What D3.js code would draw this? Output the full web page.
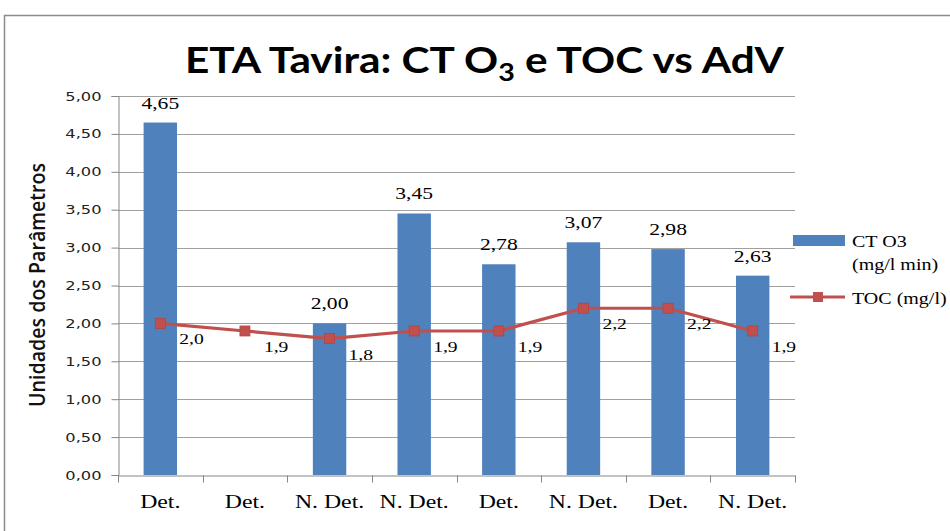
<!DOCTYPE html>
<html><head><meta charset="utf-8">
<script src="https://cdn.jsdelivr.net/npm/d3@7"></script>
<style>html,body{margin:0;padding:0;background:#fff;}svg{display:block;}</style>
</head><body>
<svg id="c" width="950" height="531"></svg>
<script>
const categories = ["Det.", "Det.", "N. Det.", "N. Det.", "Det.", "N. Det.", "Det.", "N. Det."];
const ctO3 = [4.65, null, 2.00, 3.45, 2.78, 3.07, 2.98, 2.63];
const toc = [2.0, 1.9, 1.8, 1.9, 1.9, 2.2, 2.2, 1.9];
const yTicks = [0, 0.5, 1, 1.5, 2, 2.5, 3, 3.5, 4, 4.5, 5];
const seriesNames = ["CT O3", "(mg/l min)", "TOC (mg/l)"];

const svg = d3.select("#c");
const L = 118, R = 795, T = 96, B = 475;
const x = d3.scaleBand().domain(d3.range(categories.length)).range([L, R]).padding(0);
const y = d3.scaleLinear().domain([0, 5]).range([B, T]);
const BLUE = "#4F81BD", RED = "#C0504D";
const comma = (f) => (v) => d3.format(f)(v).replace(".", ",");

function stretch(sel, k) {
  sel.each(function () {
    const w = this.getComputedTextLength();
    this.setAttribute("textLength", w * k);
    this.setAttribute("lengthAdjust", "spacingAndGlyphs");
  });
}

// outer border
svg.append("rect").attr("x", 4.5).attr("y", 15.5).attr("width", 1000).attr("height", 600)
  .attr("fill", "none").attr("stroke", "#8c8c8c").attr("stroke-width", 1.5);

// gridlines
svg.append("g").selectAll("line").data(yTicks.filter(d => d > 0)).join("line")
  .attr("x1", L).attr("x2", R).attr("y1", d => Math.round(y(d)) + 0.5).attr("y2", d => Math.round(y(d)) + 0.5)
  .attr("stroke", "#a0a0a0").attr("stroke-width", 1);

// y axis
const yAxis = svg.append("g").attr("transform", `translate(${L + 0.5},0)`)
  .call(d3.axisLeft(y).tickValues(yTicks).tickFormat(comma(".2f")).tickSize(7).tickPadding(10));
yAxis.select(".domain").attr("stroke", "#868686");
yAxis.selectAll(".tick line").attr("stroke", "#868686");
yAxis.selectAll(".tick text").attr("font-family", "DejaVu Sans").attr("font-size", 12.5).attr("fill", "#222");

// x axis
const xAxis = svg.append("g").attr("transform", `translate(0,${B + 0.5})`)
  .call(d3.axisBottom(x).tickFormat(i => categories[i]).tickSize(0).tickPadding(0));
xAxis.select(".domain").attr("stroke", "#868686");
xAxis.selectAll(".tick text").remove();
xAxis.selectAll(".bnd").data(d3.range(categories.length + 1)).join("line")
  .attr("x1", i => Math.round(L + i * x.step()) + 0.5).attr("x2", i => Math.round(L + i * x.step()) + 0.5)
  .attr("y1", 0).attr("y2", 7).attr("stroke", "#868686");
const xl = svg.append("g").selectAll("text").data(categories).join("text")
  .attr("x", (d, i) => x(i) + x.bandwidth() / 2).attr("y", 508)
  .attr("text-anchor", "middle").attr("font-family", "Liberation Serif").attr("font-size", 18)
  .attr("fill", "#000").text(d => d);

// bars
const bw = x.bandwidth() * 0.395;
svg.append("g").selectAll("rect").data(ctO3.map((v, i) => ({ v, i })).filter(d => d.v != null)).join("rect")
  .attr("x", d => x(d.i) + x.bandwidth() / 2 - bw / 2).attr("width", bw)
  .attr("y", d => y(d.v)).attr("height", d => y(0) - y(d.v)).attr("fill", BLUE);

// bar labels
const bl = svg.append("g").selectAll("text").data(ctO3.map((v, i) => ({ v, i })).filter(d => d.v != null)).join("text")
  .attr("x", d => x(d.i) + x.bandwidth() / 2).attr("y", d => y(d.v) - 14)
  .attr("text-anchor", "middle").attr("font-family", "Liberation Serif").attr("font-size", 16)
  .attr("fill", "#000").text(d => comma(".2f")(d.v));

// line
const cx = i => x(i) + x.bandwidth() / 2;
svg.append("path").datum(toc).attr("fill", "none").attr("stroke", RED).attr("stroke-width", 3.2)
  .attr("stroke-linejoin", "round")
  .attr("d", d3.line().x((d, i) => cx(i)).y(d => y(d)));
svg.append("g").selectAll("rect").data(toc).join("rect")
  .attr("x", (d, i) => cx(i) - 5).attr("y", d => y(d) - 5).attr("width", 10).attr("height", 10)
  .attr("fill", RED).attr("stroke", "#b8433f").attr("stroke-width", 0.8);
const ll = svg.append("g").selectAll("text").data(toc).join("text")
  .attr("x", (d, i) => cx(i) + 19).attr("y", d => y(d) + 21)
  .attr("font-family", "Liberation Serif").attr("font-size", 14.5).attr("fill", "#000")
  .text(d => comma(".1f")(d));

// legend
svg.append("rect").attr("x", 793).attr("y", 235).attr("width", 52).attr("height", 11).attr("fill", BLUE);
svg.append("line").attr("x1", 790).attr("x2", 845).attr("y1", 297).attr("y2", 297).attr("stroke", RED).attr("stroke-width", 3.2);
svg.append("rect").attr("x", 813).attr("y", 292).attr("width", 10).attr("height", 10).attr("fill", RED);
const lg = svg.append("g").selectAll("text").data([[seriesNames[0], 247], [seriesNames[1], 270], [seriesNames[2], 304]]).join("text")
  .attr("x", 852).attr("y", d => d[1]).attr("font-family", "Liberation Serif").attr("font-size", 16)
  .attr("fill", "#000").text(d => d[0]);

// title
const title = svg.append("text").attr("x", 185).attr("y", 73)
  .attr("font-family", "Lato").attr("font-weight", "bold").attr("font-size", 37).attr("fill", "#000");
title.append("tspan").text("ETA Tavira: CT O");
title.append("tspan").attr("font-size", 25).attr("dy", 8).text("3");
title.append("tspan").attr("dy", -8).text(" e TOC vs AdV");

// y axis title
const yt = svg.append("text").attr("transform", "translate(45,285) rotate(-90)")
  .attr("text-anchor", "middle").attr("font-family", "Open Sans").attr("font-weight", 600)
  .attr("font-size", 21).attr("fill", "#111")
  .text("Unidades dos Parâmetros");

// horizontal stretch to match reference text widths
stretch(yAxis.selectAll(".tick text"), 1.3);
stretch(xl, 1.32);
stretch(bl, 1.35);
stretch(ll, 1.35);
stretch(lg, 1.25);
title.each(function () { this.setAttribute("textLength", 599); this.setAttribute("lengthAdjust", "spacingAndGlyphs"); });
yt.each(function () { this.setAttribute("textLength", 244); this.setAttribute("lengthAdjust", "spacingAndGlyphs"); });
</script>
</body></html>
